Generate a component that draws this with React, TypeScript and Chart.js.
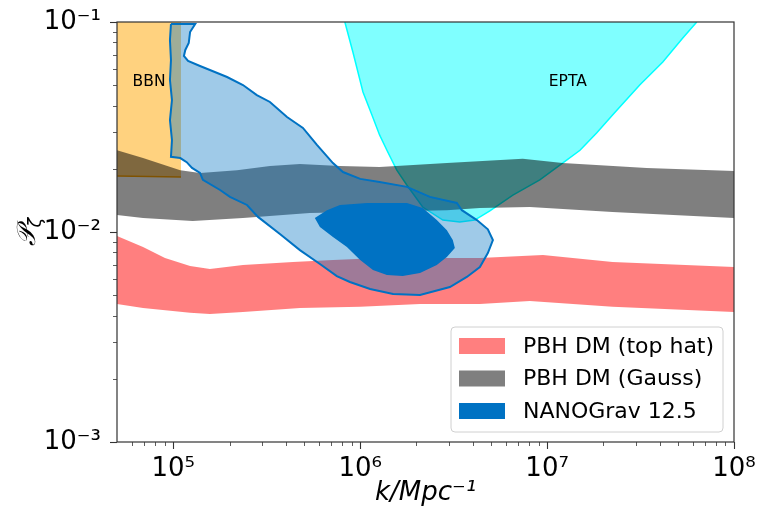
import React, { useEffect, useRef } from 'react';
import { Chart, registerables } from 'chart.js';

Chart.register(...registerables);

type Pt = [number, number];

// axis ranges and ticks
const xRange: Pt = [5e4, 1e8];
const yRange: Pt = [1e-3, 1e-1];
const xMajorTicks = [1e5, 1e6, 1e7, 1e8];
const yMajorTicks = [1e-3, 1e-2, 1e-1];
const minorMultipliers = [2, 3, 4, 5, 6, 7, 8, 9];
const xDecades = [1e4, 1e5, 1e6, 1e7];
const yDecades = [1e-3, 1e-2];

// PBH DM (top hat) band
const topHatUpper: Pt[] = [
  [5.0e4, 9.57e-3], [6.89e4, 8.48e-3], [9.03e4, 7.52e-3], [1.23e5, 6.89e-3], [1.57e5, 6.67e-3],
  [2.36e5, 6.97e-3], [4.37e5, 7.2e-3], [7.15e5, 7.36e-3], [1.27e6, 7.52e-3], [4.37e6, 7.52e-3],
  [9.5e6, 7.77e-3], [2.24e7, 7.2e-3], [1e8, 6.81e-3],
];
const topHatLower: Pt[] = [
  [5.0e4, 4.54e-3], [6.89e4, 4.35e-3], [1.23e5, 4.12e-3], [1.57e5, 4.07e-3], [2.36e5, 4.16e-3],
  [4.76e5, 4.35e-3], [1e6, 4.4e-3], [2.09e6, 4.54e-3], [4.37e6, 4.54e-3], [8.08e6, 4.69e-3],
  [2.24e7, 4.4e-3], [1e8, 4.16e-3],
];

// PBH DM (Gauss) band
const gaussUpper: Pt[] = [
  [5e4, 2.45e-2], [6.89e4, 2.25e-2], [1.09e5, 1.97e-2], [1.39e5, 1.91e-2], [2.19e5, 1.97e-2],
  [3.29e5, 2.06e-2], [4.76e5, 2.11e-2], [7.79e5, 2.06e-2], [1.27e6, 2.04e-2], [2.91e6, 2.13e-2],
  [7.41e6, 2.23e-2], [1.21e7, 2.13e-2], [3.41e7, 2.02e-2], [1e8, 1.95e-2],
];
const gaussLower: Pt[] = [
  [5e4, 1.205e-2], [6.89e4, 1.166e-2], [1.27e5, 1.128e-2], [2.36e5, 1.166e-2], [5.38e5, 1.23e-2],
  [1e6, 1.245e-2], [2.91e6, 1.27e-2], [4.37e6, 1.3e-2], [8.08e6, 1.315e-2], [2.24e7, 1.245e-2],
  [1e8, 1.166e-2],
];

// BBN bound
const bbnRegion: Pt[] = [[5e4, 1e-1], [1.1e5, 1e-1], [1.1e5, 1.83e-2], [5e4, 1.85e-2]];
const bbnEdge: Pt[] = [[5e4, 1.85e-2], [1.1e5, 1.83e-2]];

// EPTA bound
const eptaRegion: Pt[] = [
  [8.28e5, 0.1], [9.14e5, 7.2e-2], [1.035e6, 4.64e-2], [1.156e6, 3.61e-2], [1.27e6, 2.9e-2],
  [1.39e6, 2.45e-2], [1.57e6, 1.97e-2], [1.78e6, 1.67e-2], [2.16e6, 1.315e-2], [2.77e6, 1.14e-2],
  [3.41e6, 1.116e-2], [4.1e6, 1.14e-2], [4.94e6, 1.26e-2], [6.56e6, 1.5e-2], [9.14e6, 1.77e-2],
  [1.21e7, 2.13e-2], [1.5e7, 2.45e-2], [1.84e7, 2.96e-2], [2.24e7, 3.61e-2], [3.13e7, 5.01e-2],
  [4.16e7, 6.45e-2], [5.32e7, 8.39e-2], [6.32e7, 0.1],
];

// NANOGrav 12.5 contours
const nanoOuter: Pt[] = [
  [9.72e4, 9.78e-2], [1.31e5, 9.78e-2], [1.23e5, 8.96e-2], [1.21e5, 7.94e-2], [1.16e5, 7.36e-2],
  [1.14e5, 6.89e-2], [1.2e5, 6.52e-2], [1.39e5, 6.17e-2], [1.57e5, 5.91e-2], [1.94e5, 5.47e-2],
  [2.36e5, 5.01e-2], [2.8e5, 4.49e-2], [3.29e5, 4.16e-2], [4.06e5, 3.53e-2], [4.94e5, 3.13e-2],
  [5.87e5, 2.6e-2], [7.15e5, 2.13e-2], [8.09e5, 1.93e-2], [1.0e6, 1.79e-2], [1.27e6, 1.73e-2],
  [1.78e6, 1.64e-2], [2.36e6, 1.47e-2], [3.29e6, 1.375e-2], [3.5e6, 1.27e-2], [4.21e6, 1.14e-2],
  [4.82e6, 1.03e-2], [5.13e6, 9.16e-3], [4.82e6, 7.94e-3], [4.37e6, 6.81e-3], [3.72e6, 6.11e-3],
  [3.02e6, 5.47e-3], [2.09e6, 5.01e-3], [1.5e6, 5.07e-3], [1.13e6, 5.35e-3], [8.81e5, 5.78e-3],
  [7.5e5, 6.17e-3], [6.09e5, 7.04e-3], [4.76e5, 8.2e-3], [3.72e5, 9.78e-3], [2.84e5, 1.18e-2],
  [2.48e5, 1.345e-2], [2.01e5, 1.47e-2], [1.78e5, 1.585e-2], [1.44e5, 1.77e-2], [1.39e5, 1.91e-2],
  [1.26e5, 2.02e-2], [1.18e5, 2.15e-2], [1.09e5, 2.25e-2], [9.72e4, 2.28e-2], [9.84e4, 2.74e-2],
  [9.6e4, 3.41e-2], [9.84e4, 4.25e-2], [9.6e4, 5.29e-2], [9.72e4, 6.59e-2], [9.6e4, 8.21e-2],
];
const nanoInner: Pt[] = [
  [5.72e5, 1.166e-2], [6.64e5, 1.27e-2], [7.79e5, 1.345e-2], [1.09e6, 1.375e-2], [1.78e6, 1.375e-2],
  [2.16e6, 1.3e-2], [2.57e6, 1.14e-2], [2.91e6, 1.02e-2], [3.13e6, 9.16e-3], [3.21e6, 8.39e-3],
  [2.91e6, 7.6e-3], [2.57e6, 6.97e-3], [2.09e6, 6.38e-3], [1.69e6, 6.17e-3], [1.39e6, 6.24e-3],
  [1.17e6, 6.59e-3], [1.0e6, 7.36e-3], [8.49e5, 8.48e-3], [7.15e5, 9.47e-3], [6.09e5, 1.057e-2],
];

// text annotations
const annotations = [
  { text: 'BBN', k: 7.42e4, p: 5.2e-2 },
  { text: 'EPTA', k: 1.29e7, p: 5.2e-2 },
];

const legendItems = [
  { label: 'PBH DM (top hat)', color: 'rgba(255,0,0,0.5)' },
  { label: 'PBH DM (Gauss)', color: 'rgba(0,0,0,0.5)' },
  { label: 'NANOGrav 12.5', color: 'rgb(0,114,195)' },
];

const FONT = '"DejaVu Sans", "Noto Sans", sans-serif';

const toXY = (pts: Pt[]) => pts.map(([x, y]) => ({ x, y }));
const closed = (pts: Pt[]) => toXY([...pts, pts[0]]);
const band = (upper: Pt[], lower: Pt[]) => toXY([...upper, ...[...lower].reverse(), upper[0]]);

const SUP: Record<string, string> = {
  '-': '⁻', '0': '⁰', '1': '¹', '2': '²', '3': '³', '4': '⁴', '5': '⁵', '6': '⁶', '7': '⁷', '8': '⁸', '9': '⁹',
};
const powLabel = (v: number) => {
  const e = Math.round(Math.log10(v));
  return '10' + String(e).split('').map((c) => SUP[c]).join('');
};

const minorsIn = (decades: number[], range: Pt) => {
  const out: number[] = [];
  decades.forEach((d) => minorMultipliers.forEach((m) => {
    const v = d * m;
    if (v > range[0] * 1.0001 && v < range[1] * 0.9999) out.push(v);
  }));
  return out;
};

const zeroPad = (s: any) => {
  s.paddingLeft = 0;
  s.paddingRight = 0;
  s.paddingTop = 0;
  s.paddingBottom = 0;
};

const decorPlugin = {
  id: 'decor',
  afterDatasetsDraw(chart: any) {
    const { ctx, chartArea: a, scales } = chart;
    const xs = scales.x;
    const ys = scales.y;
    ctx.save();
    // annotations
    ctx.fillStyle = '#000';
    ctx.font = `15.5px ${FONT}`;
    ctx.textAlign = 'center';
    ctx.textBaseline = 'middle';
    annotations.forEach((an) => ctx.fillText(an.text, xs.getPixelForValue(an.k), ys.getPixelForValue(an.p)));

    // frame
    ctx.strokeStyle = '#333';
    ctx.lineWidth = 1.2;
    ctx.strokeRect(a.left, a.top, a.right - a.left, a.bottom - a.top);

    // ticks
    ctx.lineWidth = 1.1;
    const tick = (v: number, len: number, isX: boolean) => {
      ctx.beginPath();
      if (isX) {
        const px = Math.round(xs.getPixelForValue(v)) + 0.5;
        ctx.moveTo(px, a.bottom);
        ctx.lineTo(px, a.bottom + len);
      } else {
        const py = Math.round(ys.getPixelForValue(v)) + 0.5;
        ctx.moveTo(a.left, py);
        ctx.lineTo(a.left - len, py);
      }
      ctx.stroke();
    };
    xMajorTicks.forEach((v) => tick(v, 7, true));
    yMajorTicks.forEach((v) => tick(v, 7, false));
    ctx.lineWidth = 0.8;
    minorsIn(xDecades, xRange).forEach((v) => tick(v, 4, true));
    minorsIn(yDecades, yRange).forEach((v) => tick(v, 4, false));

    // legend
    const bw = 272;
    const bh = 105;
    const bx = a.right - 11 - bw;
    const by = a.bottom - 10 - bh;
    ctx.beginPath();
    ctx.roundRect(bx, by, bw, bh, 4);
    ctx.fillStyle = 'rgba(255,255,255,0.8)';
    ctx.fill();
    ctx.strokeStyle = '#d0d0d0';
    ctx.lineWidth = 1;
    ctx.stroke();
    ctx.font = `22px ${FONT}`;
    ctx.textAlign = 'left';
    ctx.textBaseline = 'middle';
    legendItems.forEach((it, i) => {
      const cy = by + 19 + i * 32.5;
      ctx.fillStyle = it.color;
      ctx.fillRect(bx + 8, cy - 8, 46, 16);
      ctx.fillStyle = '#000';
      ctx.fillText(it.label, bx + 72, cy + 1);
    });

    // y-axis title
    ctx.save();
    ctx.translate(35, (a.top + a.bottom) / 2);
    ctx.rotate(-Math.PI / 2);
    ctx.textBaseline = 'alphabetic';
    ctx.fillStyle = '#000';
    ctx.font = `italic 26px ${FONT}`;
    const main = '𝒫';
    const wMain = ctx.measureText(main).width;
    ctx.font = `italic 18px ${FONT}`;
    const sub = 'ζ';
    const wSub = ctx.measureText(sub).width;
    const start = -(wMain + wSub) / 2;
    ctx.font = `italic 26px ${FONT}`;
    ctx.textAlign = 'left';
    ctx.fillText(main, start, 0);
    ctx.font = `italic 18px ${FONT}`;
    ctx.fillText(sub, start + wMain, 6);
    ctx.restore();

    ctx.restore();
  },
};

export default function App() {
  const ref = useRef<HTMLCanvasElement>(null);
  useEffect(() => {
    if (!ref.current) return;
    Chart.defaults.font.family = FONT;
    const base = { showLine: true, pointRadius: 0, pointHoverRadius: 0, tension: 0, borderWidth: 0 };
    const chart = new Chart(ref.current, {
      type: 'scatter',
      data: {
        datasets: [
          { ...base, label: 'NANOGrav inner', data: closed(nanoInner), backgroundColor: 'rgb(0,114,195)', borderColor: 'rgb(0,114,195)', fill: 'shape', order: 1 },
          { ...base, label: 'NANOGrav outer', data: closed(nanoOuter), backgroundColor: 'rgba(0,114,195,0.375)', borderColor: 'rgb(0,114,195)', borderWidth: 2, fill: 'shape', order: 2 },
          { ...base, label: 'PBH DM (Gauss)', data: band(gaussUpper, gaussLower), backgroundColor: 'rgba(0,0,0,0.5)', borderColor: 'rgba(0,0,0,0)', fill: 'shape', order: 3 },
          { ...base, label: 'PBH DM (top hat)', data: band(topHatUpper, topHatLower), backgroundColor: 'rgba(255,0,0,0.5)', borderColor: 'rgba(0,0,0,0)', fill: 'shape', order: 4 },
          { ...base, label: 'EPTA', data: toXY(eptaRegion), backgroundColor: 'rgba(0,255,255,0.5)', borderColor: 'rgb(0,255,255)', borderWidth: 1.5, fill: 'shape', order: 5 },
          { ...base, label: 'BBN edge', data: toXY(bbnEdge), borderColor: 'rgb(255,165,0)', borderWidth: 1.5, fill: false, order: 6 },
          { ...base, label: 'BBN', data: closed(bbnRegion), backgroundColor: 'rgba(255,165,0,0.5)', borderColor: 'rgba(0,0,0,0)', fill: 'shape', order: 7 },
        ],
      },
      options: {
        responsive: false,
        animation: false,
        events: [],
        layout: { padding: { left: 0, right: 24, top: 22, bottom: 0 } },
        plugins: { legend: { display: false }, tooltip: { enabled: false } },
        scales: {
          x: {
            type: 'logarithmic',
            min: xRange[0],
            max: xRange[1],
            grid: { display: false, drawTicks: false },
            border: { display: false },
            afterBuildTicks: (s: any) => { s.ticks = xMajorTicks.map((value) => ({ value })); },
            afterFit: (s: any) => { s.height = 70; zeroPad(s); },
            ticks: {
              autoSkip: false,
              maxRotation: 0,
              padding: 12,
              color: '#000',
              font: { size: 26, family: FONT },
              callback: (v: any) => powLabel(Number(v)),
            },
            title: {
              display: true,
              text: 'k/Mpc⁻¹',
              color: '#000',
              font: { size: 26, style: 'italic', family: FONT },
              padding: { top: 0, bottom: 3 },
            },
          },
          y: {
            type: 'logarithmic',
            min: yRange[0],
            max: yRange[1],
            grid: { display: false, drawTicks: false },
            border: { display: false },
            afterBuildTicks: (s: any) => { s.ticks = yMajorTicks.map((value) => ({ value })); },
            afterFit: (s: any) => { s.width = 117; zeroPad(s); },
            ticks: {
              autoSkip: false,
              padding: 16,
              color: '#000',
              font: { size: 26, family: FONT },
              callback: (v: any) => powLabel(Number(v)),
            },
          },
        },
      },
      plugins: [decorPlugin],
    } as any);
    return () => chart.destroy();
  }, []);
  return (
    <div style={{ position: 'absolute', left: 0, top: 0, width: 758, height: 512, background: '#fff' }}>
      <canvas ref={ref} width={758} height={512} style={{ display: 'block', width: 758, height: 512 }} />
    </div>
  );
}
